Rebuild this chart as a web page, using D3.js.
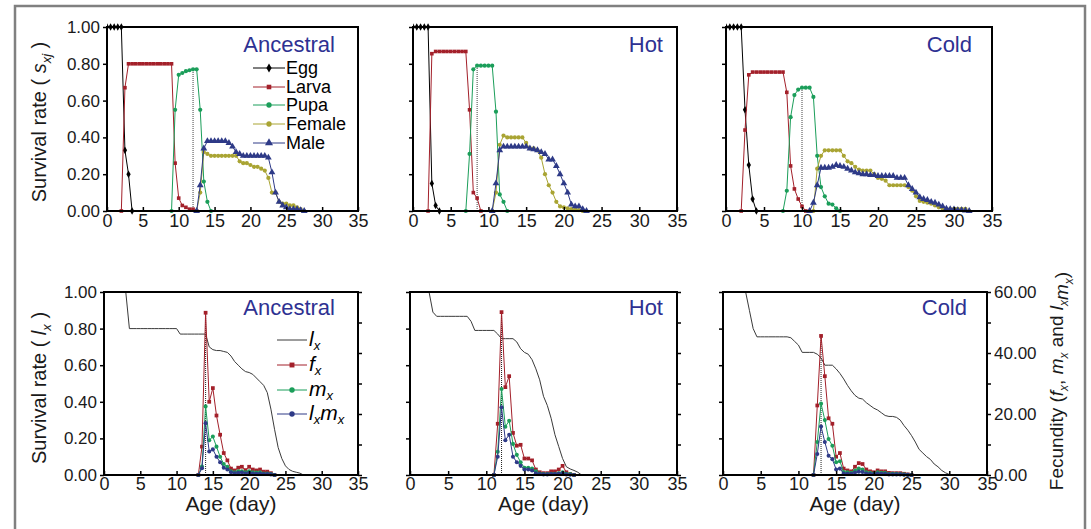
<!DOCTYPE html>
<html lang="en">
<head>
<meta charset="UTF-8">
<title>Age-stage survival and fecundity</title>
<style>
    body{ margin:0; background:#fff; }
    svg text{ font-family:"Liberation Sans", Arial, sans-serif; }
</style>
<script src="https://cdn.jsdelivr.net/npm/d3@7"></script>
</head>
<body>
<div id="container"></div>
<script>
// ---- data (values every 0.5 day, starting at "from") ----
var panelNames = ["Ancestral", "Hot", "Cold"];
var xTicks = [0, 5, 10, 15, 20, 25, 30, 35];
var yTicks = [0, 0.2, 0.4, 0.6, 0.8, 1.0];
var fTicks = [0, 10, 20, 30, 40, 50, 60];
var stageNames = ["Egg", "Larva", "Pupa", "Female", "Male"];
var curveNames = ["lx", "fx", "mx", "lxmx"];

var ancestralStages = [
    {from: 0, s: [1, 1, 1, 1, 1, 0.33, 0.20, 0]},
    {from: 2, s: [0, 0.67, 0.80, 0.80, 0.80, 0.80, 0.80, 0.80, 0.80, 0.80, 0.80, 0.80, 0.80, 0.80, 0.80, 0.26, 0.07, 0.03, 0.02, 0.01, 0.01, 0]},
    {from: 9, s: [0, 0.55, 0.74, 0.75, 0.76, 0.765, 0.77, 0.77, 0.55, 0.16, 0.05, 0]},
    {from: 12.5, s: [0, 0.10, 0.32, 0.31, 0.30, 0.30, 0.30, 0.30, 0.30, 0.30, 0.30, 0.30, 0.27, 0.26, 0.26, 0.25, 0.24, 0.24, 0.23, 0.22, 0.18, 0.10, 0.10, 0.05, 0.04, 0.04, 0.03, 0.03, 0.02, 0.01, 0]},
    {from: 12.5, s: [0, 0.14, 0.34, 0.38, 0.38, 0.38, 0.38, 0.38, 0.38, 0.37, 0.35, 0.32, 0.31, 0.30, 0.30, 0.30, 0.30, 0.30, 0.30, 0.30, 0.29, 0.21, 0.10, 0.05, 0.03, 0.02, 0.01, 0.01, 0.01, 0.005, 0]}
];
var hotStages = [
    {from: 0, s: [1, 1, 1, 1, 1, 0.15, 0.03, 0]},
    {from: 2, s: [0, 0.855, 0.867, 0.867, 0.867, 0.867, 0.867, 0.867, 0.867, 0.867, 0.867, 0.55, 0.10, 0.07, 0]},
    {from: 7, s: [0, 0.31, 0.77, 0.79, 0.79, 0.79, 0.79, 0.79, 0.54, 0.09, 0.05, 0]},
    {from: 10.5, s: [0, 0.10, 0.36, 0.41, 0.40, 0.40, 0.40, 0.40, 0.40, 0.37, 0.34, 0.34, 0.33, 0.29, 0.20, 0.14, 0.10, 0.05, 0.025, 0.02, 0.015, 0.01, 0.008, 0.005, 0]},
    {from: 10.5, s: [0, 0.15, 0.33, 0.35, 0.35, 0.35, 0.35, 0.35, 0.35, 0.35, 0.34, 0.335, 0.33, 0.32, 0.31, 0.28, 0.28, 0.245, 0.20, 0.15, 0.10, 0.035, 0.025, 0.025, 0.01, 0]}
];
var coldStages = [
    {from: 0, s: [1, 1, 1, 1, 1, 0.55, 0.25, 0.065, 0]},
    {from: 2, s: [0, 0.44, 0.74, 0.755, 0.755, 0.755, 0.755, 0.755, 0.755, 0.755, 0.755, 0.755, 0.645, 0.245, 0.12, 0.065, 0.025, 0]},
    {from: 7.5, s: [0, 0.11, 0.51, 0.63, 0.66, 0.67, 0.67, 0.67, 0.62, 0.30, 0.13, 0.08, 0.04, 0.035, 0.015, 0]},
    {from: 11.5, s: [0, 0.23, 0.30, 0.33, 0.33, 0.33, 0.33, 0.33, 0.30, 0.27, 0.26, 0.24, 0.225, 0.22, 0.22, 0.22, 0.20, 0.18, 0.175, 0.165, 0.14, 0.14, 0.14, 0.14, 0.14, 0.13, 0.11, 0.08, 0.055, 0.05, 0.045, 0.04, 0.03, 0.02, 0.013, 0.01, 0.01, 0.012, 0.012, 0.012, 0.012, 0]},
    {from: 11, s: [0, 0.045, 0.14, 0.235, 0.235, 0.235, 0.24, 0.25, 0.245, 0.24, 0.23, 0.22, 0.21, 0.205, 0.20, 0.20, 0.195, 0.195, 0.19, 0.19, 0.19, 0.19, 0.19, 0.18, 0.18, 0.18, 0.14, 0.12, 0.10, 0.075, 0.065, 0.06, 0.05, 0.045, 0.035, 0.025, 0.013, 0.01, 0.008, 0.005, 0.005, 0.003, 0]}
];

// lx on the left axis (0-1), fx / mx / lxmx on the right axis (0-60)
var ancestralCurves = [
    {from: 0, s: [1, 1, 1, 1, 1, 1, 1, 0.80, 0.80, 0.80, 0.80, 0.80, 0.80, 0.80, 0.80, 0.80, 0.80, 0.80, 0.80, 0.80, 0.80, 0.77, 0.77, 0.77, 0.77, 0.77, 0.77, 0.77, 0.77, 0.70, 0.685, 0.68, 0.68, 0.675, 0.67, 0.65, 0.62, 0.60, 0.58, 0.565, 0.56, 0.55, 0.53, 0.51, 0.49, 0.45, 0.36, 0.25, 0.15, 0.09, 0.05, 0.03, 0.02, 0.015, 0.01, 0]},
    {from: 13, s: [0, 9.3, 53.2, 24.0, 28.5, 19.5, 13.2, 7.2, 4.8, 2.1, 1.5, 2.4, 2.7, 1.6, 2.7, 1.8, 1.5, 1.8, 1.1, 1.1, 0.6, 0]},
    {from: 13, s: [0, 2.8, 22.5, 11.4, 12.6, 9.3, 6.0, 3.6, 2.7, 1.2, 0.9, 1.2, 1.2, 0.9, 1.2, 0.9, 0.8, 0.9, 0.5, 0.5, 0.3, 0]},
    {from: 13, s: [0, 2.2, 17.0, 7.7, 8.4, 6.0, 4.2, 2.4, 1.8, 0.9, 0.6, 0.7, 0.8, 0.5, 0.7, 0.5, 0.4, 0.5, 0.3, 0.3, 0.2, 0]}
];
var hotCurves = [
    {from: 0, s: [1, 1, 1, 1, 1, 1, 0.89, 0.867, 0.867, 0.867, 0.867, 0.867, 0.867, 0.867, 0.867, 0.867, 0.84, 0.79, 0.79, 0.79, 0.79, 0.79, 0.79, 0.77, 0.745, 0.745, 0.745, 0.745, 0.727, 0.69, 0.67, 0.66, 0.63, 0.58, 0.52, 0.43, 0.38, 0.31, 0.22, 0.155, 0.09, 0.045, 0.033, 0.025, 0.015, 0]},
    {from: 11, s: [0, 16.8, 53.4, 28.8, 32.4, 13.8, 9.6, 9.9, 5.4, 5.4, 4.8, 1.8, 0.9, 0.6, 0.6, 1.2, 1.2, 1.8, 3.0, 0.9, 0.3, 0]},
    {from: 11, s: [0, 7.6, 28.2, 15.8, 17.8, 10.2, 6.6, 4.2, 2.4, 2.4, 2.1, 1.2, 0.5, 0.3, 0.3, 0.4, 0.4, 0.6, 0.9, 0.4, 0.3, 0]},
    {from: 11, s: [0, 6.0, 22.2, 11.4, 13.2, 6.0, 4.2, 3.0, 1.8, 1.8, 1.5, 0.6, 0.3, 0.2, 0.2, 0.3, 0.3, 0.4, 0.6, 0.2, 0.1, 0]}
];
var coldCurves = [
    {from: 0, s: [1, 1, 1, 1, 1, 1, 1, 0.90, 0.80, 0.755, 0.755, 0.755, 0.755, 0.755, 0.755, 0.755, 0.755, 0.755, 0.75, 0.73, 0.71, 0.67, 0.67, 0.67, 0.67, 0.66, 0.64, 0.60, 0.60, 0.60, 0.58, 0.555, 0.525, 0.49, 0.46, 0.435, 0.42, 0.415, 0.395, 0.38, 0.365, 0.355, 0.34, 0.325, 0.32, 0.32, 0.315, 0.30, 0.27, 0.245, 0.215, 0.18, 0.14, 0.12, 0.10, 0.085, 0.06, 0.045, 0.025, 0.012, 0.003, 0.002, 0.002, 0.001, 0]},
    {from: 12, s: [0, 22.8, 45.6, 32.4, 18.6, 16.8, 6.0, 7.2, 2.1, 1.5, 1.2, 2.7, 3.9, 3.6, 1.8, 1.2, 0.9, 1.5, 1.2, 1.2, 0.7, 0.6, 0.6, 0.6, 0.4, 0.2, 0]},
    {from: 12, s: [0, 10.8, 23.4, 18.0, 11.8, 9.6, 4.2, 4.5, 1.0, 0.9, 0.7, 1.5, 2.1, 1.8, 0.9, 0.7, 0.5, 0.9, 0.7, 0.7, 0.4, 0.4, 0.4, 0.3, 0.2, 0.1, 0]},
    {from: 12, s: [0, 6.9, 15.9, 10.8, 6.3, 5.2, 1.8, 2.1, 0.5, 0.4, 0.4, 0.8, 1.1, 1.0, 0.5, 0.4, 0.3, 0.5, 0.4, 0.4, 0.2, 0.2, 0.2, 0.2, 0.1, 0.05, 0]}
];
// ages where the dotted guide line is drawn
var pupaPeakAge = [12, 8.5, 10];
var firstEggAge = [14, 12, 13];

var stageSets = [ancestralStages, hotStages, coldStages];
var curveSets = [ancestralCurves, hotCurves, coldCurves];

// ---- layout ----
var w = 1091, h = 529;
var topX = [[107, 358], [413, 677], [726, 992]], topY = [211, 27];
var botX = [[104, 358], [410, 677], [723, 987]], botY = [475, 292];
var labelDx = [23, 14, 20];
var stageColor = ["#000000", "#a3202a", "#1b9e5a", "#a9a433", "#2e3a87"];
var stageSymbol = [d3.symbolDiamond, d3.symbolSquare, d3.symbolCircle, d3.symbolCircle, d3.symbolTriangle];
var stageSize = [16, 13, 14, 14, 20];
var curveColor = ["#3a3a3a", "#a3202a", "#1b9e5a", "#2e3a87"];
var curveSymbol = [null, d3.symbolSquare, d3.symbolCircle, d3.symbolCircle];
var curveSize = [0, 14, 13, 13];
var fmt = d3.format(".2f");
var blank = function () { return ''; };

var svg = d3.select('#container').append('svg').attr('width', w).attr('height', h);

svg.append('rect').attr('x', 15).attr('y', 6).attr('width', 1070).attr('height', 560)
    .attr('fill', 'none').attr('stroke', '#808080').attr('stroke-width', 2.5);

function points(ser) {
    return ser.s.map(function (v, i) { return {age: ser.from + i * 0.5, v: v}; });
}

function styleAxis(size) {
    return function (g) {
        g.select('.domain').remove();
        g.selectAll('.tick line').attr('stroke', '#000').attr('stroke-width', 1.5);
        g.selectAll('.tick text').attr('font-size', size).attr('fill', '#1a1a1a')
            .attr('font-family', '"Liberation Sans", Arial, sans-serif');
    };
}

function drawSeries(g, ser, x, y, color, symbol, size) {
    var pts = points(ser);
    var line = d3.line().x(function (d) { return x(d.age); }).y(function (d) { return y(d.v); });
    g.append('path').datum(pts).attr('d', line).attr('fill', 'none')
        .attr('stroke', color).attr('stroke-width', 1);
    if (symbol) {
        g.selectAll(null).data(pts).enter().append('path')
            .attr('d', d3.symbol().type(symbol).size(size))
            .attr('transform', function (d) { return 'translate(' + x(d.age) + ',' + y(d.v) + ')'; })
            .attr('fill', color);
    }
}

function clipFor(id, xr, yr) {
    svg.append('clipPath').attr('id', id).append('rect')
        .attr('x', xr[0]).attr('y', yr[1] - 4).attr('width', xr[1] - xr[0]).attr('height', yr[0] - yr[1] + 8);
    return 'url(#' + id + ')';
}

// ---- top row: stage survival ----
panelNames.forEach(function (name, p) {
    var x = d3.scaleLinear().domain([0, 35]).range(topX[p]);
    var y = d3.scaleLinear().domain([0, 1]).range(topY);
    var g = svg.append('g');
    var plot = g.append('g').attr('clip-path', clipFor('clipT' + p, topX[p], topY));

    var pk = points(stageSets[p][2]).filter(function (d) { return d.age === pupaPeakAge[p]; })[0];
    plot.append('line').attr('x1', x(pk.age)).attr('x2', x(pk.age)).attr('y1', y(0)).attr('y2', y(pk.v))
        .attr('stroke', '#444').attr('stroke-width', 1).attr('stroke-dasharray', '1,1');

    stageSets[p].forEach(function (ser, k) {
        drawSeries(plot, ser, x, y, stageColor[k], stageSymbol[k], stageSize[k]);
    });

    g.append('rect').attr('x', topX[p][0]).attr('y', topY[1])
        .attr('width', topX[p][1] - topX[p][0]).attr('height', topY[0] - topY[1])
        .attr('fill', 'none').attr('stroke', '#000').attr('stroke-width', 2);

    g.append('g').attr('transform', 'translate(0,' + topY[0] + ')')
        .call(d3.axisBottom(x).tickValues(xTicks).tickSize(-4).tickPadding(3)).call(styleAxis('18px'));
    g.append('g').attr('transform', 'translate(' + topX[p][0] + ',0)')
        .call(d3.axisLeft(y).tickValues(yTicks).tickSize(4).tickPadding(3)
            .tickFormat(p === 0 ? fmt : blank)).call(styleAxis('17px'));

    g.append('text').attr('x', topX[p][1] - labelDx[p]).attr('y', 52).attr('text-anchor', 'end')
        .attr('font-size', '22px').attr('fill', '#2e3192').text(name);
});

// ---- bottom row: lx, fx, mx, lxmx ----
panelNames.forEach(function (name, p) {
    var x = d3.scaleLinear().domain([0, 35]).range(botX[p]);
    var y = d3.scaleLinear().domain([0, 1]).range(botY);
    var yR = d3.scaleLinear().domain([0, 60]).range(botY);
    var g = svg.append('g');
    var plot = g.append('g').attr('clip-path', clipFor('clipB' + p, botX[p], botY));

    var pk = points(curveSets[p][1]).filter(function (d) { return d.age === firstEggAge[p]; })[0];
    plot.append('line').attr('x1', x(pk.age)).attr('x2', x(pk.age)).attr('y1', yR(0)).attr('y2', yR(pk.v))
        .attr('stroke', '#222').attr('stroke-width', 1).attr('stroke-dasharray', '1,1');

    curveSets[p].forEach(function (ser, k) {
        drawSeries(plot, ser, x, k === 0 ? y : yR, curveColor[k], curveSymbol[k], curveSize[k]);
    });

    g.append('rect').attr('x', botX[p][0]).attr('y', botY[1])
        .attr('width', botX[p][1] - botX[p][0]).attr('height', botY[0] - botY[1])
        .attr('fill', 'none').attr('stroke', '#000').attr('stroke-width', 2);

    g.append('g').attr('transform', 'translate(0,' + botY[0] + ')')
        .call(d3.axisBottom(x).tickValues(xTicks).tickSize(-4).tickPadding(2)).call(styleAxis('18px'));
    g.append('g').attr('transform', 'translate(' + botX[p][0] + ',0)')
        .call(d3.axisLeft(y).tickValues(yTicks).tickSize(4).tickPadding(3)
            .tickFormat(p === 0 ? fmt : blank)).call(styleAxis('17px'));
    g.append('g').attr('transform', 'translate(' + botX[p][1] + ',0)')
        .call(d3.axisRight(yR).tickValues(fTicks).tickSize(4).tickPadding(3)
            .tickFormat(function (d) { return (p === 2 && d % 20 === 0) ? fmt(d) : ''; })).call(styleAxis('17px'));

    g.append('text').attr('x', botX[p][1] - labelDx[p]).attr('y', 315).attr('text-anchor', 'end')
        .attr('font-size', '22px').attr('fill', '#2e3192').text(name);

    g.append('text').attr('x', (botX[p][0] + botX[p][1]) / 2).attr('y', 511).attr('text-anchor', 'middle')
        .attr('font-size', '21px').attr('fill', '#1a1a1a').text('Age (day)');
});

// ---- legends ----
var legTop = svg.append('g');
var legTopY = [68, 87, 105, 124, 143];
stageNames.forEach(function (n, k) {
    var yy = legTopY[k];
    legTop.append('line').attr('x1', 253).attr('x2', 285).attr('y1', yy).attr('y2', yy)
        .attr('stroke', stageColor[k]).attr('stroke-width', 1);
    legTop.append('path').attr('d', d3.symbol().type(stageSymbol[k]).size(stageSize[k] + 8))
        .attr('transform', 'translate(269,' + yy + ')').attr('fill', stageColor[k]);
    legTop.append('text').attr('x', 286).attr('y', yy + 6).attr('font-size', '18px')
        .attr('fill', '#000').text(n);
});

var legBot = svg.append('g');
var legBotY = [340, 365, 390, 414];
var legBotMain = [['l'], ['f'], ['m'], ['l', 'm']];
curveNames.forEach(function (n, k) {
    var yy = legBotY[k];
    legBot.append('line').attr('x1', 277).attr('x2', 307).attr('y1', yy).attr('y2', yy)
        .attr('stroke', curveColor[k]).attr('stroke-width', 1);
    if (curveSymbol[k]) {
        legBot.append('path').attr('d', d3.symbol().type(curveSymbol[k]).size(curveSize[k] + 10))
            .attr('transform', 'translate(292,' + yy + ')').attr('fill', curveColor[k]);
    }
    var t = legBot.append('text').attr('x', 309).attr('y', yy + 6).attr('font-size', '21px')
        .attr('font-style', 'italic').attr('fill', '#000');
    legBotMain[k].forEach(function (m, j) {
        t.append('tspan').attr('dy', j === 0 ? 0 : -4).text(m);
        t.append('tspan').attr('font-size', '13px').attr('dy', 4).text('x');
    });
});

// ---- axis titles ----
var t1 = svg.append('text').attr('transform', 'translate(46,122) rotate(-90)')
    .attr('text-anchor', 'middle').attr('font-size', '20px').attr('fill', '#1a1a1a');
t1.append('tspan').text('Survival rate ( ');
t1.append('tspan').attr('font-style', 'italic').text('s');
t1.append('tspan').attr('font-style', 'italic').attr('font-size', '13px').attr('dy', 5).text('xj');
t1.append('tspan').attr('dy', -5).text(' )');

var t2 = svg.append('text').attr('transform', 'translate(46,388) rotate(-90)')
    .attr('text-anchor', 'middle').attr('font-size', '20px').attr('fill', '#1a1a1a');
t2.append('tspan').text('Survival rate ( ');
t2.append('tspan').attr('font-style', 'italic').text('l');
t2.append('tspan').attr('font-style', 'italic').attr('font-size', '13px').attr('dy', 5).text('x');
t2.append('tspan').attr('dy', -5).text(' )');

var t3 = svg.append('text').attr('transform', 'translate(1063,381) rotate(-90)')
    .attr('text-anchor', 'middle').attr('font-size', '19px').attr('fill', '#1a1a1a');
t3.append('tspan').text('Fecundity (');
[['f', ', '], ['m', ' and '], ['l', ''], ['m', ')']].forEach(function (part) {
    t3.append('tspan').attr('font-style', 'italic').text(part[0]);
    t3.append('tspan').attr('font-style', 'italic').attr('font-size', '12px').attr('dy', 5).text('x');
    t3.append('tspan').attr('dy', -5).text(part[1]);
});
</script>
</body>
</html>
